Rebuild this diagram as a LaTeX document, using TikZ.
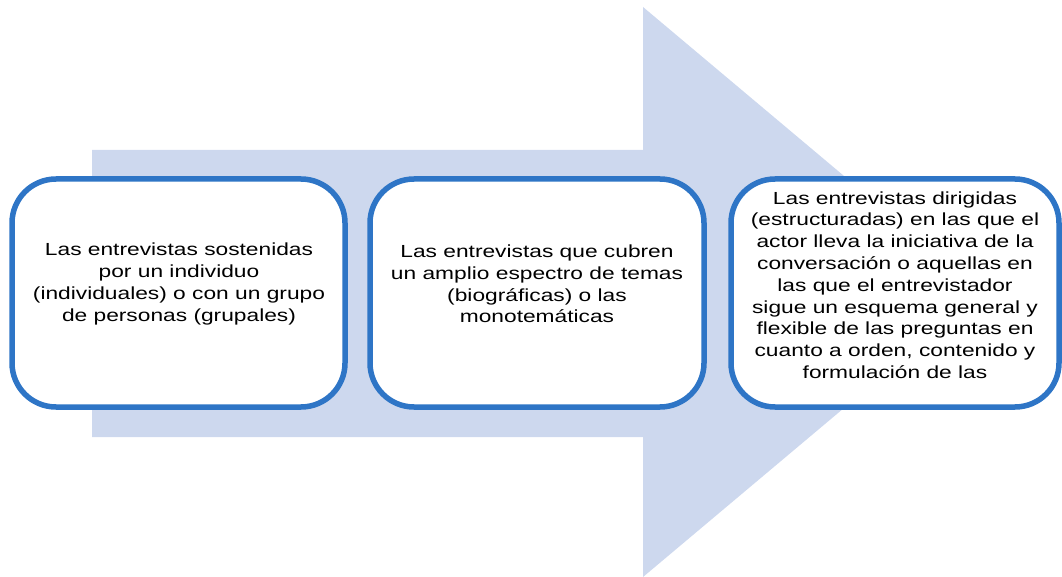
\documentclass[tikz,border=0pt]{standalone}
\usepackage{fontspec}
\newfontfamily\boxfont[FakeStretch=1.3]{Liberation Sans}
\definecolor{arrowfill}{RGB}{205,216,238}
\definecolor{boxline}{RGB}{46,117,198}
\begin{document}
\begin{tikzpicture}[x=1pt,y=-1pt,
  stagebox/.style={draw=boxline,line width=5.5pt,fill=white,rounded corners=44pt,
    rectangle,inner sep=0pt},
  stagetext/.style={align=center,inner sep=0pt,
    font=\boxfont\fontsize{17.5}{21.8}\selectfont}]
\useasboundingbox (0,0) rectangle (1062,577);
\fill[arrowfill] (92,150) -- (643,150) -- (643,7) -- (982,292) -- (643,577)
  -- (643,437) -- (92,437) -- cycle;
\node[stagebox,minimum width=333pt,minimum height=228pt] (b1) at (178.5,293) {};
\node[stagebox,minimum width=334pt,minimum height=228pt] (b2) at (537,293) {};
\node[stagebox,minimum width=328pt,minimum height=228pt] (b3) at (895,293) {};
\node[stagetext] (t1) at (179,284) {Las entrevistas sostenidas\\por un individuo\\(individuales) o con un grupo\\de personas (grupales)};
\node[stagetext] (t2) at (537,284) {Las entrevistas que cubren\\un amplio espectro de temas\\(biográficas) o las\\monotemáticas};
\node[stagetext] (t3) at (895,285) {Las entrevistas dirigidas\\(estructuradas) en las que el\\actor lleva la iniciativa de la\\conversación o aquellas en\\las que el entrevistador\\sigue un esquema general y\\flexible de las preguntas en\\cuanto a orden, contenido y\\formulación de las};
\end{tikzpicture}
\end{document}
